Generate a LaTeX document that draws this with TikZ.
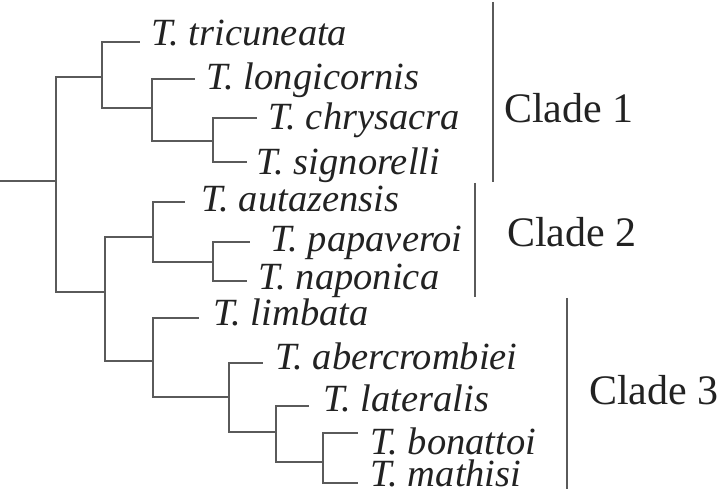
\documentclass[tikz,border=0pt]{standalone}
\usepackage{fontspec}
\setmainfont{Liberation Serif}
\definecolor{linegray}{HTML}{5A5A5A}
\definecolor{textgray}{HTML}{222222}
\begin{document}
\begin{tikzpicture}[x=1pt,y=-1pt,
  branch/.style={draw=linegray,line width=2pt},
  cladebar/.style={draw=linegray,line width=2pt},
  taxon/.style={anchor=base west,inner sep=0pt,font=\fontsize{38.5}{40}\selectfont\itshape,text=textgray},
  cladelbl/.style={anchor=base west,inner sep=0pt,font=\fontsize{42}{46}\selectfont,text=textgray}]
\useasboundingbox (0,0) rectangle (724,489);

% internal nodes
\coordinate (base) at (0,181);
\coordinate (R) at (56,181);
\coordinate (A) at (102,77);
\coordinate (B) at (152,108);
\coordinate (C) at (213,141);
\coordinate (D) at (105,292);
\coordinate (E) at (153,237);
\coordinate (F) at (213,262);
\coordinate (G) at (153,361);
\coordinate (H) at (229,397);
\coordinate (I) at (276,432);
\coordinate (J) at (323,462);

% leaf ends
\coordinate (etri) at (140,42);
\coordinate (elon) at (195,79);
\coordinate (echr) at (257,118);
\coordinate (esig) at (247,162);
\coordinate (eaut) at (185,202);
\coordinate (epap) at (250,242);
\coordinate (enap) at (247,281);
\coordinate (elim) at (199,318);
\coordinate (eabe) at (263,363);
\coordinate (elat) at (309,406);
\coordinate (ebon) at (358,433);
\coordinate (emat) at (358,483);

% branches
\draw[branch] (base) -- (R);
\draw[branch] (R) |- (A);
\draw[branch] (R) |- (D);
\draw[branch] (A) |- (etri);
\draw[branch] (A) |- (B);
\draw[branch] (B) |- (elon);
\draw[branch] (B) |- (C);
\draw[branch] (C) |- (echr);
\draw[branch] (C) |- (esig);
\draw[branch] (D) |- (E);
\draw[branch] (D) |- (G);
\draw[branch] (E) |- (eaut);
\draw[branch] (E) |- (F);
\draw[branch] (F) |- (epap);
\draw[branch] (F) |- (enap);
\draw[branch] (G) |- (elim);
\draw[branch] (G) |- (H);
\draw[branch] (H) |- (eabe);
\draw[branch] (H) |- (I);
\draw[branch] (I) |- (elat);
\draw[branch] (I) |- (J);
\draw[branch] (J) |- (ebon);
\draw[branch] (J) |- (emat);

% taxon labels
\node[taxon] (ltri) at (151,46) {T. tricuneata};
\node[taxon] (llon) at (206,90) {T. longicornis};
\node[taxon] (lchr) at (268,130) {T. chrysacra};
\node[taxon] (lsig) at (256,175) {T. signorelli};
\node[taxon] (laut) at (201,212) {T. autazensis};
\node[taxon] (lpap) at (270,252) {T. papaveroi};
\node[taxon] (lnap) at (258,290) {T. naponica};
\node[taxon] (llim) at (213,326) {T. limbata};
\node[taxon] (labe) at (275,370) {T. abercrombiei};
\node[taxon] (llat) at (323,412) {T. lateralis};
\node[taxon] (lbon) at (370,455) {T. bonattoi};
\node[taxon] (lmat) at (370,486) {T. mathisi};

% clade bars
\coordinate (c1t) at (493,2);
\coordinate (c1b) at (493,182);
\coordinate (c2t) at (475,183);
\coordinate (c2b) at (475,297);
\coordinate (c3t) at (567,298);
\coordinate (c3b) at (567,489);
\draw[cladebar] (c1t) -- (c1b);
\draw[cladebar] (c2t) -- (c2b);
\draw[cladebar] (c3t) -- (c3b);

\node[cladelbl] (k1) at (504,123) {Clade 1};
\node[cladelbl] (k2) at (507,247) {Clade 2};
\node[cladelbl] (k3) at (589,405) {Clade 3};
\end{tikzpicture}
\end{document}
